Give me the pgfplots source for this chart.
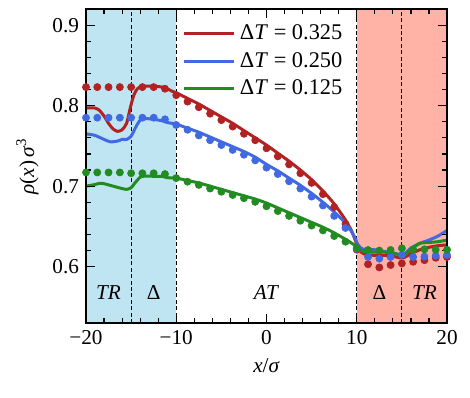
\documentclass[border=0pt,10pt]{standalone}
\usepackage{fontspec}
\setmainfont{Liberation Serif}
\usepackage{pgfplots}
\pgfplotsset{compat=1.18}
\definecolor{cRed}{RGB}{178,34,34}
\definecolor{cBlue}{RGB}{65,105,225}
\definecolor{cGreen}{RGB}{34,139,34}
\definecolor{bgBlue}{RGB}{191,229,242}
\definecolor{bgRed}{RGB}{255,179,167}
\newcommand{\fs}{\fontsize{10.6}{12}\selectfont}
\newcommand{\fl}{\fontsize{11.2}{12.5}\selectfont}
\begin{document}
\begin{tikzpicture}
\path[use as bounding box] (-43pt,-37pt) rectangle (192pt,161.5pt);
\begin{axis}[
  at={(0,0)}, anchor=south west,
  scale only axis, width=180.5pt, height=157pt,
  xmin=-20, xmax=20, ymin=0.53, ymax=0.92,
  xtick={-20,-10,0,10,20}, ytick={0.6,0.7,0.8,0.9},
  xticklabels={−20,−10,0,10,20}, yticklabels={0.6,0.7,0.8,0.9},
  minor x tick num=4, minor y tick num=4,
  tick align=inside,
  major tick length=4.5pt, minor tick length=2.7pt,
  every tick/.style={black, line width=0.6pt},
  axis line style={line width=0.9pt},
  xlabel={\textit{x}/\textit{σ}}, ylabel={\textit{ρ}(\textit{x})\,\textit{σ}\textsuperscript{3}},
  axis on top,
  legend style={draw=none, fill=none, at={(0.262,0.97)}, anchor=north west,
    row sep=0.8pt, inner sep=1pt, font=\fl},
  legend cell align=left,
  legend image code/.code={\draw[#1] (0pt,0pt) -- (25pt,0pt);},
  every axis label/.append style={font=\fs},
  ticklabel style={font=\fs},
]
% backgrounds
\addplot[fill=bgBlue, draw=none, forget plot] coordinates {(-20,0.53) (-10,0.53) (-10,0.92) (-20,0.92)} -- cycle;
\addplot[fill=bgRed, draw=none, forget plot] coordinates {(10,0.53) (20,0.53) (20,0.92) (10,0.92)} -- cycle;
\addplot[black, line width=0.5pt, dash pattern=on 2pt off 1.2pt, forget plot] coordinates {(-15,0.53) (-15,0.92)};
\addplot[black, line width=0.5pt, dash pattern=on 2pt off 1.2pt, forget plot] coordinates {(-10,0.53) (-10,0.92)};
\addplot[black, line width=0.5pt, dash pattern=on 2pt off 1.2pt, forget plot] coordinates {(10,0.53) (10,0.92)};
\addplot[black, line width=0.5pt, dash pattern=on 2pt off 1.2pt, forget plot] coordinates {(15,0.53) (15,0.92)};
% dots
\addplot[only marks, mark=*, mark size=1.75pt, cRed, forget plot] coordinates {
(-20,0.823) (-18.75,0.823) (-17.5,0.823) (-16.25,0.823) (-15,0.823) (-13.75,0.823) (-12.5,0.823) (-11.25,0.821)
(-10,0.813) (-8.75,0.805) (-7.5,0.798) (-6.25,0.790) (-5,0.782) (-3.75,0.774) (-2.5,0.765) (-1.25,0.757)
(0,0.747) (1.25,0.737) (2.5,0.727) (3.75,0.716) (5,0.704) (6.25,0.690) (7.5,0.674) (8.75,0.653)
(10,0.621) (11.25,0.603) (12.5,0.599) (13.75,0.602) (15,0.604) (16.25,0.606) (17.5,0.608) (18.75,0.611) (20,0.612)};
\addplot[only marks, mark=*, mark size=1.75pt, cBlue, forget plot] coordinates {
(-20,0.785) (-18.75,0.785) (-17.5,0.785) (-16.25,0.785) (-15,0.785) (-13.75,0.785) (-12.5,0.785) (-11.25,0.783)
(-10,0.776) (-8.75,0.770) (-7.5,0.763) (-6.25,0.757) (-5,0.751) (-3.75,0.745) (-2.5,0.739) (-1.25,0.732)
(0,0.723) (1.25,0.715) (2.5,0.706) (3.75,0.697) (5,0.687) (6.25,0.676) (7.5,0.663) (8.75,0.648)
(10,0.622) (11.25,0.612) (12.5,0.610) (13.75,0.612) (15,0.6145) (16.25,0.612) (17.5,0.6125) (18.75,0.6135) (20,0.6145)};
\addplot[only marks, mark=*, mark size=1.75pt, cGreen, forget plot] coordinates {
(-20,0.717) (-18.75,0.717) (-17.5,0.717) (-16.25,0.717) (-15,0.716) (-13.75,0.716) (-12.5,0.716) (-11.25,0.715)
(-10,0.710) (-8.75,0.7055) (-7.5,0.7015) (-6.25,0.697) (-5,0.693) (-3.75,0.689) (-2.5,0.685) (-1.25,0.6805)
(0,0.675) (1.25,0.669) (2.5,0.663) (3.75,0.657) (5,0.651) (6.25,0.645) (7.5,0.638) (8.75,0.631)
(10,0.623) (11.25,0.6207) (12.5,0.620) (13.75,0.6207) (15,0.6228) (16.25,0.6215) (17.5,0.6215) (18.75,0.621) (20,0.621)};
% lines
\addplot[cRed, line width=1.5pt, smooth, tension=0.4] coordinates {
(-20,0.797) (-19,0.797) (-18.5,0.794) (-18,0.787) (-17.5,0.778) (-17,0.771) (-16.5,0.768) (-16,0.770) (-15.5,0.778)
(-15.1,0.797) (-14.7,0.813) (-14.3,0.821) (-13.8,0.824) (-12.5,0.824) (-11.5,0.823) (-11,0.821) (-10.5,0.818) (-10,0.816)
(-8.75,0.809) (-7.5,0.802) (-6.25,0.794) (-5,0.786) (-3.75,0.778) (-2.5,0.769) (-1.25,0.760) (0,0.751)
(1.25,0.741) (2.5,0.731) (3.75,0.720) (5,0.708) (6.25,0.694) (7.5,0.678) (8.75,0.658) (9.4,0.645) (9.8,0.634)
(10.1,0.625) (10.5,0.618) (11,0.615) (12,0.614) (13,0.614) (14,0.613)
(14.7,0.611) (15.2,0.611) (16,0.616) (17,0.621) (18,0.624) (19,0.626) (20,0.627)};
\addlegendentry{Δ\textit{T} = 0.325}
\addplot[cBlue, line width=1.5pt, smooth, tension=0.4] coordinates {
(-20,0.765) (-19,0.763) (-18,0.758) (-17.3,0.755) (-16.5,0.756) (-16,0.758) (-15.5,0.758) (-15,0.762) (-14.5,0.773)
(-14,0.782) (-13.5,0.784) (-12.5,0.783) (-11.5,0.781) (-11,0.779) (-10,0.777)
(-8.75,0.772) (-7.5,0.767) (-6.25,0.761) (-5,0.755) (-3.75,0.749) (-2.5,0.743) (-1.25,0.736) (0,0.727)
(1.25,0.719) (2.5,0.710) (3.75,0.701) (5,0.691) (6.25,0.680) (7.5,0.668) (8.75,0.654) (9.4,0.644) (9.8,0.636)
(10.1,0.628) (10.5,0.623) (11,0.621) (12,0.621) (13,0.619) (14,0.617) (14.8,0.615) (15.3,0.616)
(16,0.623) (17,0.629) (18,0.633) (19,0.638) (20,0.645)};
\addlegendentry{Δ\textit{T} = 0.250}
\addplot[cGreen, line width=1.5pt, smooth, tension=0.4] coordinates {
(-20,0.700) (-19,0.702) (-18.5,0.7035) (-18,0.703) (-17,0.700) (-16,0.697) (-15.5,0.696) (-15,0.698) (-14.5,0.705)
(-14,0.711) (-13.5,0.7125) (-12,0.712) (-11.5,0.712) (-11,0.7105) (-10,0.710)
(-8.75,0.707) (-7.5,0.704) (-6.25,0.700) (-5,0.696) (-3.75,0.692) (-2.5,0.688) (-1.25,0.684) (0,0.679)
(1.25,0.673) (2.5,0.667) (3.75,0.661) (5,0.655) (6.25,0.649) (7.5,0.642) (8.75,0.634) (10,0.625) (10.5,0.620) (11,0.6186)
(12,0.618) (13,0.618) (14,0.617) (14.6,0.615) (15.1,0.613) (15.6,0.617) (16.2,0.623) (17,0.629) (18,0.630)
(19,0.631) (20,0.633)};
\addlegendentry{Δ\textit{T} = 0.125}
% region labels
\node[font=\fs] at (axis cs:-17.5,0.568) {\textit{TR}};
\node[font=\fs] at (axis cs:-12.5,0.568) {Δ};
\node[font=\fs] at (axis cs:0,0.568) {\textit{AT}};
\node[font=\fs] at (axis cs:12.5,0.568) {Δ};
\node[font=\fs] at (axis cs:17.5,0.568) {\textit{TR}};
\end{axis}
\end{tikzpicture}
\end{document}
